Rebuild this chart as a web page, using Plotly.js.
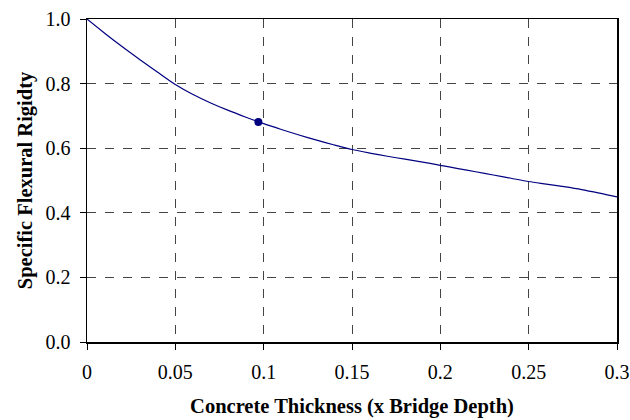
<!DOCTYPE html>
<html>
<head>
<meta charset="utf-8">
<script src="https://cdn.plot.ly/plotly-3.0.1.min.js"></script>
<style>html,body{margin:0;padding:0;background:#fff}#chart{width:630px;height:420px}</style>
</head>
<body>
<div id="chart"></div>
<script>
const thickness = [0, 0.01, 0.02, 0.03, 0.04, 0.05, 0.06, 0.07, 0.08, 0.09, 0.10,
  0.11, 0.12, 0.13, 0.14, 0.15, 0.16, 0.17, 0.18, 0.19, 0.20,
  0.21, 0.22, 0.23, 0.24, 0.25, 0.26, 0.27, 0.28, 0.29, 0.30];
const rigidity = [1.0, 0.956, 0.914, 0.874, 0.835, 0.797, 0.766, 0.740, 0.717, 0.696, 0.676,
  0.658, 0.641, 0.625, 0.610, 0.596, 0.585, 0.575, 0.566, 0.557, 0.547,
  0.537, 0.527, 0.517, 0.507, 0.497, 0.489, 0.481, 0.472, 0.461, 0.449];
const markerX = [0.097];
const markerY = [0.681];
const xTitle = 'Concrete Thickness (x Bridge Depth)';
const yTitle = 'Specific Flexural Rigidty';

const serif = "'Liberation Serif', 'Times New Roman', serif";
const traces = [
  {x: thickness, y: rigidity, mode: 'lines', line: {color: '#000080', width: 1.2, shape: 'spline', smoothing: 0.8}, hoverinfo: 'none'},
  {x: markerX, y: markerY, mode: 'markers', marker: {color: '#000080', size: 8}, hoverinfo: 'none'}
];
const axisCommon = {
  showline: true, linecolor: '#000', linewidth: 1.5, mirror: true,
  ticks: 'outside', ticklen: 6, tickcolor: '#000', tickwidth: 1,
  showgrid: true, gridcolor: '#444', griddash: 'dash', gridwidth: 1,
  zeroline: false, tickfont: {family: serif, size: 20, color: '#000'}
};
const layout = {
  width: 630, height: 420,
  margin: {l: 87, r: 13, t: 19, b: 78},
  paper_bgcolor: '#fff', plot_bgcolor: '#fff',
  showlegend: false,
  font: {family: serif},
  xaxis: Object.assign({}, axisCommon, {
    range: [0, 0.3], tickvals: [0, 0.05, 0.1, 0.15, 0.2, 0.25, 0.3],
    ticktext: ['0', '0.05', '0.1', '0.15', '0.2', '0.25', '0.3'],
    ticklabelstandoff: 5,
    title: {text: xTitle, font: {family: serif, size: 20.5, color: '#000', weight: 'bold'}, standoff: 17}
  }),
  yaxis: Object.assign({}, axisCommon, {
    range: [0, 1], tickvals: [0, 0.2, 0.4, 0.6, 0.8, 1.0],
    ticktext: ['0.0', '0.2', '0.4', '0.6', '0.8', '1.0'],
    ticklabelstandoff: 5,
    title: {text: yTitle, font: {family: serif, size: 20.5, color: '#000', weight: 'bold'}, standoff: 7}
  })
};
Plotly.newPlot('chart', traces, layout, {staticPlot: true, displayModeBar: false});
</script>
</body>
</html>
